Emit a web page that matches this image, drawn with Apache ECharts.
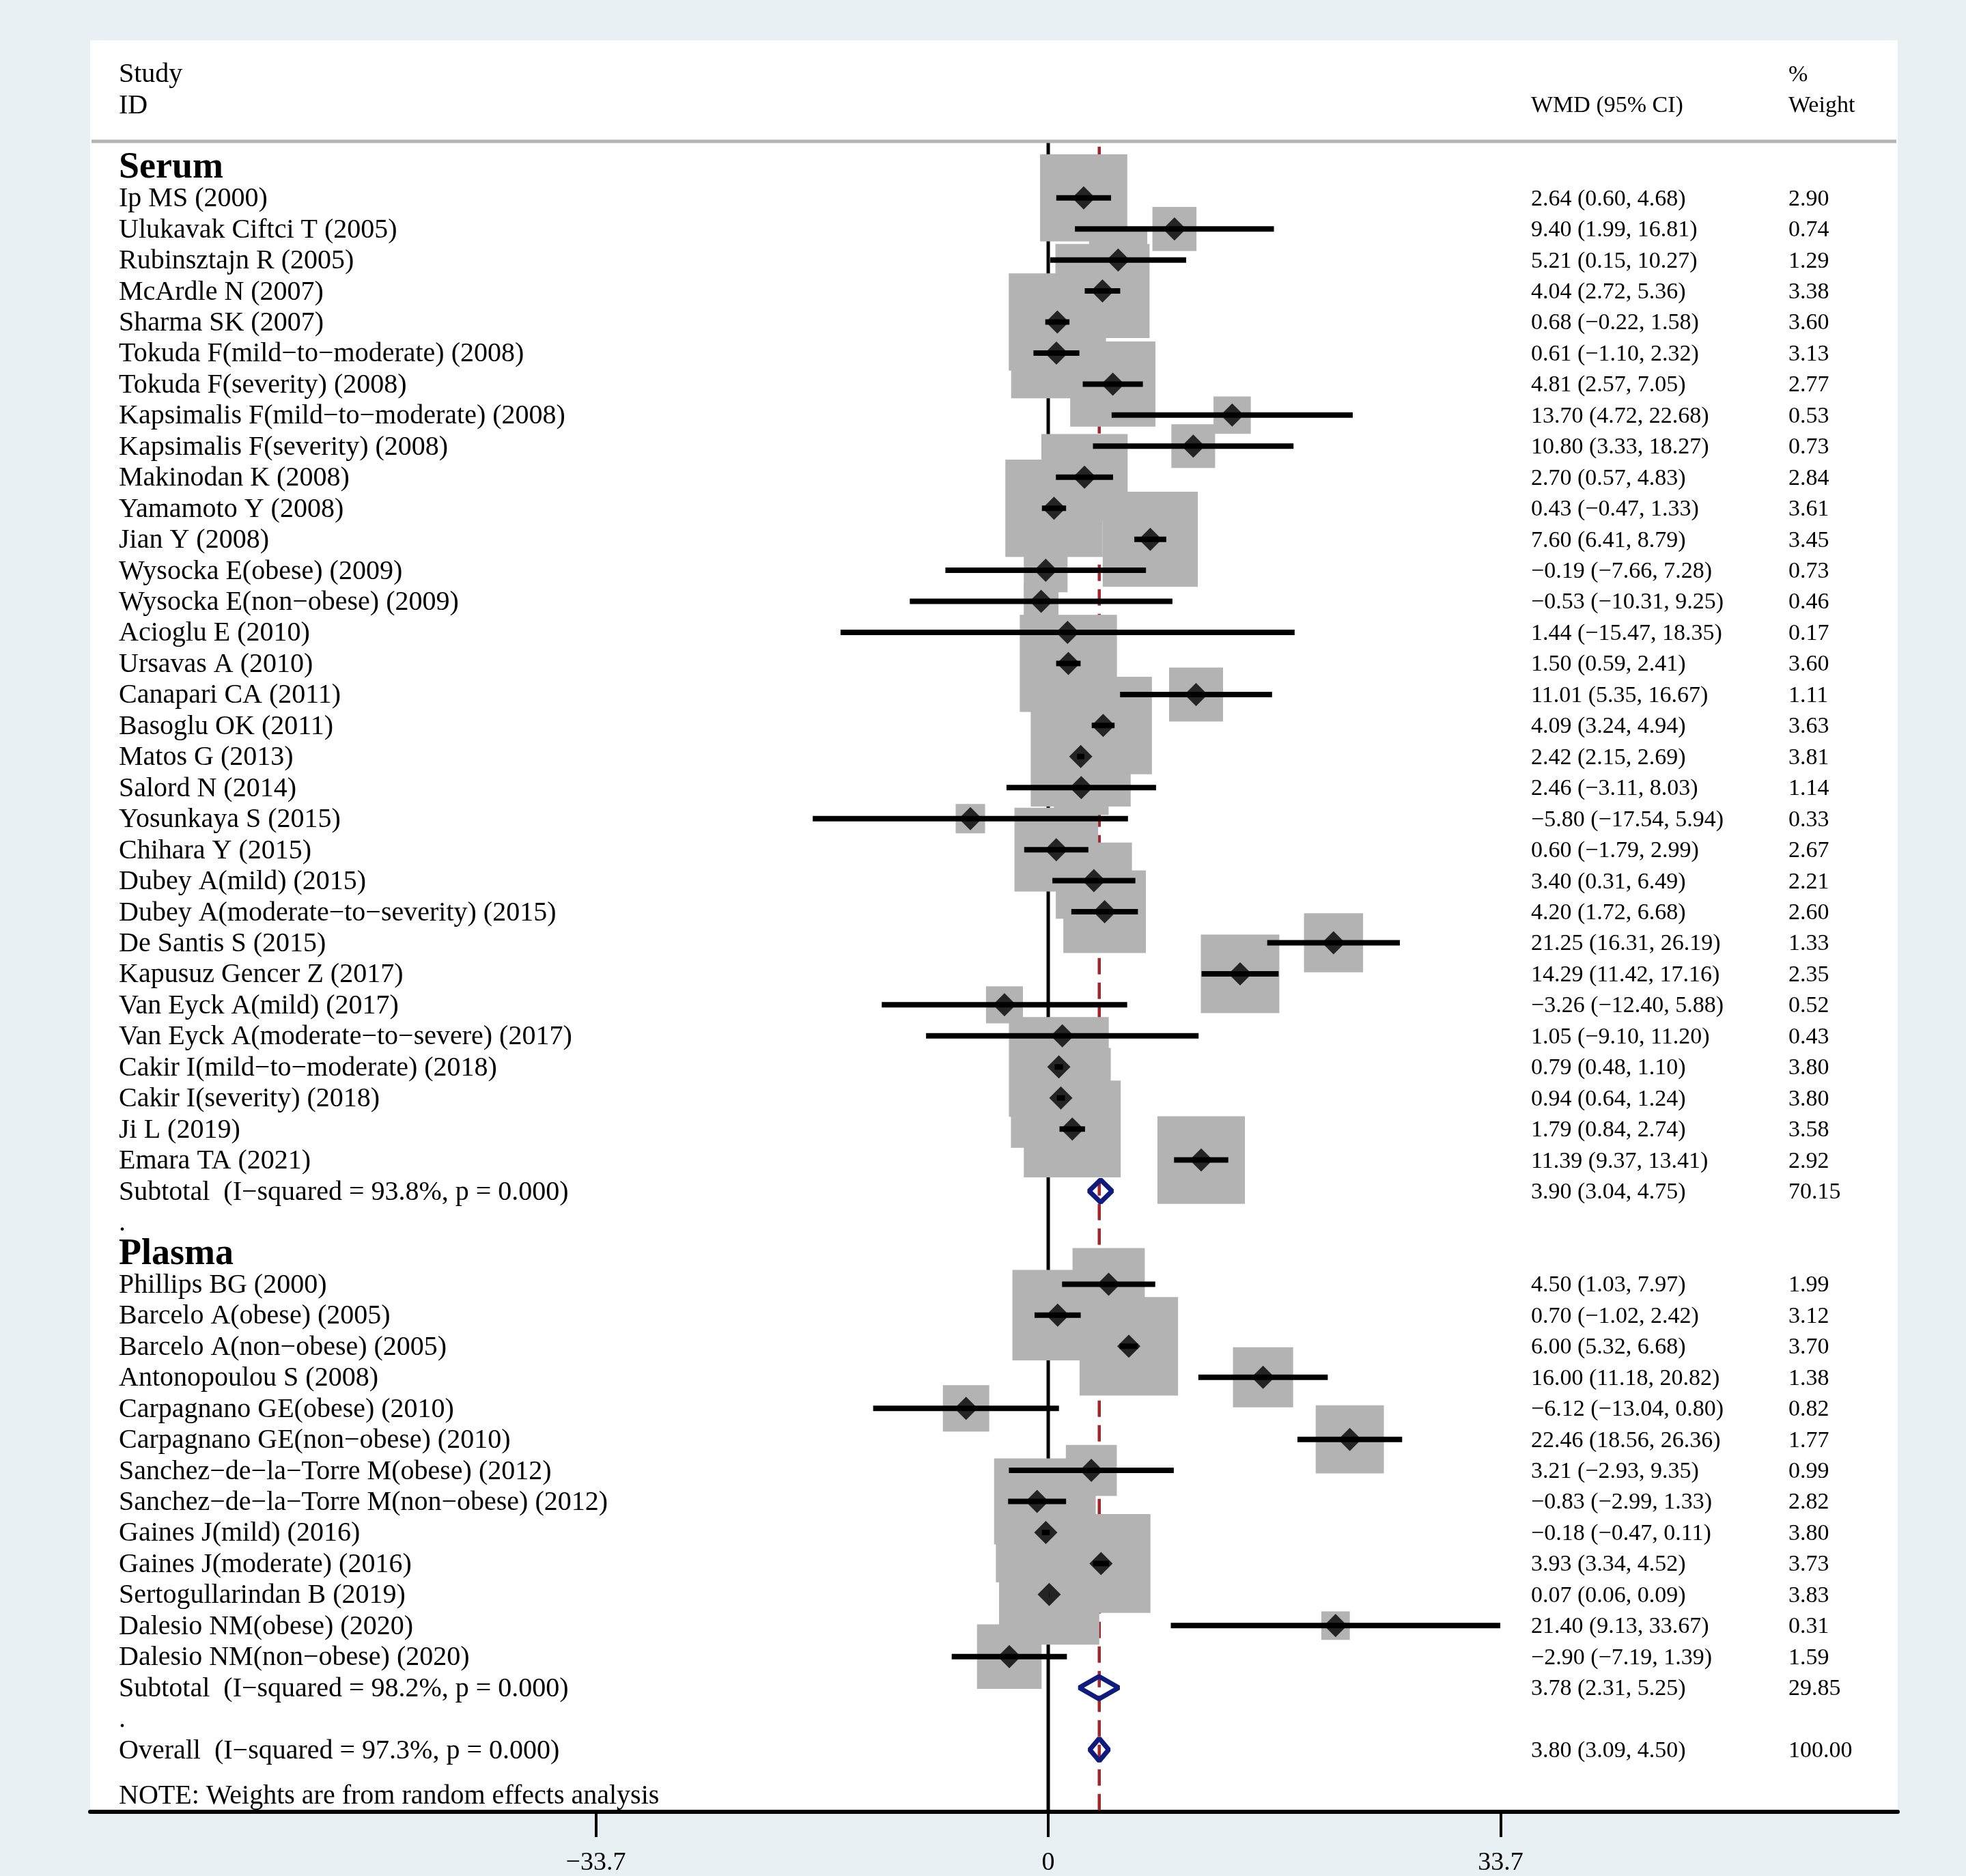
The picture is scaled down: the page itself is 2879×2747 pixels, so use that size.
<!DOCTYPE html>
<html>
<head>
<meta charset="utf-8">
<script src="https://cdn.jsdelivr.net/npm/echarts@6/dist/echarts.min.js"></script>
<style>
html,body{margin:0;padding:0;background:#e8f0f3;}
#chart{width:2879px;height:2747px;}
</style>
</head>
<body>
<div id="chart"></div>
<script>
// ---------------- DATA ----------------
const groupNames = ['Serum', 'Plasma'];

const serumStudies = [
  'Ip MS (2000)', 'Ulukavak Ciftci T (2005)', 'Rubinsztajn R (2005)', 'McArdle N (2007)',
  'Sharma SK (2007)', 'Tokuda F(mild−to−moderate) (2008)', 'Tokuda F(severity) (2008)',
  'Kapsimalis F(mild−to−moderate) (2008)', 'Kapsimalis F(severity) (2008)', 'Makinodan K (2008)',
  'Yamamoto Y (2008)', 'Jian Y (2008)', 'Wysocka E(obese) (2009)', 'Wysocka E(non−obese) (2009)',
  'Acioglu E (2010)', 'Ursavas A (2010)', 'Canapari CA (2011)', 'Basoglu OK (2011)',
  'Matos G (2013)', 'Salord N (2014)', 'Yosunkaya S (2015)', 'Chihara Y (2015)',
  'Dubey A(mild) (2015)', 'Dubey A(moderate−to−severity) (2015)', 'De Santis S (2015)',
  'Kapusuz Gencer Z (2017)', 'Van Eyck A(mild) (2017)', 'Van Eyck A(moderate−to−severe) (2017)',
  'Cakir I(mild−to−moderate) (2018)', 'Cakir I(severity) (2018)', 'Ji L (2019)', 'Emara TA (2021)'
];
const serumEst = [2.64, 9.40, 5.21, 4.04, 0.68, 0.61, 4.81, 13.70, 10.80, 2.70, 0.43, 7.60, -0.19, -0.53,
  1.44, 1.50, 11.01, 4.09, 2.42, 2.46, -5.80, 0.60, 3.40, 4.20, 21.25, 14.29, -3.26, 1.05, 0.79, 0.94, 1.79, 11.39];
const serumLo = [0.60, 1.99, 0.15, 2.72, -0.22, -1.10, 2.57, 4.72, 3.33, 0.57, -0.47, 6.41, -7.66, -10.31,
  -15.47, 0.59, 5.35, 3.24, 2.15, -3.11, -17.54, -1.79, 0.31, 1.72, 16.31, 11.42, -12.40, -9.10, 0.48, 0.64, 0.84, 9.37];
const serumHi = [4.68, 16.81, 10.27, 5.36, 1.58, 2.32, 7.05, 22.68, 18.27, 4.83, 1.33, 8.79, 7.28, 9.25,
  18.35, 2.41, 16.67, 4.94, 2.69, 8.03, 5.94, 2.99, 6.49, 6.68, 26.19, 17.16, 5.88, 11.20, 1.10, 1.24, 2.74, 13.41];
const serumWeight = [2.90, 0.74, 1.29, 3.38, 3.60, 3.13, 2.77, 0.53, 0.73, 2.84, 3.61, 3.45, 0.73, 0.46,
  0.17, 3.60, 1.11, 3.63, 3.81, 1.14, 0.33, 2.67, 2.21, 2.60, 1.33, 2.35, 0.52, 0.43, 3.80, 3.80, 3.58, 2.92];

const plasmaStudies = [
  'Phillips BG (2000)', 'Barcelo A(obese) (2005)', 'Barcelo A(non−obese) (2005)', 'Antonopoulou S (2008)',
  'Carpagnano GE(obese) (2010)', 'Carpagnano GE(non−obese) (2010)', 'Sanchez−de−la−Torre M(obese) (2012)',
  'Sanchez−de−la−Torre M(non−obese) (2012)', 'Gaines J(mild) (2016)', 'Gaines J(moderate) (2016)',
  'Sertogullarindan B (2019)', 'Dalesio NM(obese) (2020)', 'Dalesio NM(non−obese) (2020)'
];
const plasmaEst = [4.50, 0.70, 6.00, 16.00, -6.12, 22.46, 3.21, -0.83, -0.18, 3.93, 0.07, 21.40, -2.90];
const plasmaLo = [1.03, -1.02, 5.32, 11.18, -13.04, 18.56, -2.93, -2.99, -0.47, 3.34, 0.06, 9.13, -7.19];
const plasmaHi = [7.97, 2.42, 6.68, 20.82, 0.80, 26.36, 9.35, 1.33, 0.11, 4.52, 0.09, 33.67, 1.39];
const plasmaWeight = [1.99, 3.12, 3.70, 1.38, 0.82, 1.77, 0.99, 2.82, 3.80, 3.73, 3.83, 0.31, 1.59];

const subtotalLabels = ['Subtotal  (I−squared = 93.8%, p = 0.000)', 'Subtotal  (I−squared = 98.2%, p = 0.000)'];
const subtotalEst = [3.90, 3.78];
const subtotalLo = [3.04, 2.31];
const subtotalHi = [4.75, 5.25];
const subtotalWeight = [70.15, 29.85];

const overallLabel = 'Overall  (I−squared = 97.3%, p = 0.000)';
const overallEst = 3.80;
const overallLo = 3.09;
const overallHi = 4.50;
const overallWeight = 100.00;

const tickValues = [-33.7, 0, 33.7];
const headerStudy = ['Study', 'ID'];
const headerCI = 'WMD (95% CI)';
const headerWeight = ['%', 'Weight'];
const noteText = 'NOTE: Weights are from random effects analysis';

// ---------------- LAYOUT ----------------
const FONT = '"Liberation Serif", "Times New Roman", serif';
const COL_NAME = 42, COL_CI = 2110, COL_W = 2487; // px offsets from grid left
const TEXT_DY = 2;
const BOX_SCALE = 75;
const RULE_ROW = -0.82, RED_START_ROW = -0.65, AXIS_ROW = 53, NOTE_ROW = 52.45;

const fmt = v => (v < 0 ? '−' : '') + Math.abs(v).toFixed(2);
const ciText = (e, l, h) => fmt(e) + ' (' + fmt(l) + ', ' + fmt(h) + ')';

const groups = [
  {name: groupNames[0], studies: serumStudies, est: serumEst, lo: serumLo, hi: serumHi, w: serumWeight},
  {name: groupNames[1], studies: plasmaStudies, est: plasmaEst, lo: plasmaLo, hi: plasmaHi, w: plasmaWeight}
];

const SZ_NAME = 40, SZ_COL = 34, SZ_GROUP = 54;
const studyRows = [], pooledRows = [], textRows = [];
textRows.push({k: -3, text: headerStudy[0], col: 'name', size: SZ_NAME});
textRows.push({k: -2, text: headerStudy[1], col: 'name', size: SZ_NAME});
textRows.push({k: -2, text: headerCI, col: 'ci', size: SZ_COL});
textRows.push({k: -3, text: headerWeight[0], col: 'w', size: SZ_COL});
textRows.push({k: -2, text: headerWeight[1], col: 'w', size: SZ_COL});

let k = 0;
groups.forEach((g, gi) => {
  textRows.push({k, text: g.name, col: 'name', size: SZ_GROUP, bold: true});
  k++;
  g.studies.forEach((name, i) => {
    studyRows.push({k, est: g.est[i], lo: g.lo[i], hi: g.hi[i], w: g.w[i]});
    textRows.push({k, text: name, col: 'name', size: SZ_NAME});
    textRows.push({k, text: ciText(g.est[i], g.lo[i], g.hi[i]), col: 'ci', size: SZ_COL});
    textRows.push({k, text: g.w[i].toFixed(2), col: 'w', size: SZ_COL});
    k++;
  });
  pooledRows.push({k, est: subtotalEst[gi], lo: subtotalLo[gi], hi: subtotalHi[gi]});
  textRows.push({k, text: subtotalLabels[gi], col: 'name', size: SZ_NAME});
  textRows.push({k, text: ciText(subtotalEst[gi], subtotalLo[gi], subtotalHi[gi]), col: 'ci', size: SZ_COL});
  textRows.push({k, text: subtotalWeight[gi].toFixed(2), col: 'w', size: SZ_COL});
  k++;
  textRows.push({k, text: '.', col: 'name', size: SZ_NAME});
  k++;
});
pooledRows.push({k, est: overallEst, lo: overallLo, hi: overallHi});
textRows.push({k, text: overallLabel, col: 'name', size: SZ_NAME});
textRows.push({k, text: ciText(overallEst, overallLo, overallHi), col: 'ci', size: SZ_COL});
textRows.push({k, text: overallWeight.toFixed(2), col: 'w', size: SZ_COL});
textRows.push({k: NOTE_ROW, text: noteText, col: 'name', size: SZ_NAME});

const colOffset = {name: COL_NAME, ci: COL_CI, w: COL_W};

const chart = echarts.init(document.getElementById('chart'), null, {renderer: 'canvas'});

const option = {
  animation: false,
  backgroundColor: '#e8f0f3',
  grid: {left: 132, right: 100, top: 59, bottom: 91, show: true, backgroundColor: '#ffffff', borderWidth: 0},
  xAxis: {
    type: 'value', min: -71.36, max: 63.27,
    splitLine: {show: false},
    axisLine: {show: true, onZero: false, lineStyle: {color: '#000', width: 6}},
    axisTick: {show: true, customValues: tickValues, length: 37, lineStyle: {color: '#000', width: 4}},
    axisLabel: {
      customValues: tickValues, margin: 56, fontSize: 38, fontFamily: FONT, color: '#000',
      formatter: v => v === 0 ? '0' : (v < 0 ? '−' : '') + Math.abs(v).toFixed(1)
    }
  },
  yAxis: {
    type: 'value', inverse: true, min: -4.077, max: AXIS_ROW, show: false,
    splitLine: {show: false}
  },
  graphic: [{
    type: 'line', z: 10,
    shape: {x1: 134, y1: 207, x2: 2777, y2: 207},
    style: {stroke: '#b4b4b4', lineWidth: 5}
  }],
  series: [
    {
      name: 'refLines', type: 'custom', z: 1, silent: true,
      data: [[0, 0], [overallEst, 1]],
      encode: {x: 0, y: 1},
      renderItem: (params, api) => {
        const x = api.value(0);
        const isZero = params.dataIndex === 0;
        const p1 = api.coord([x, isZero ? RULE_ROW : RED_START_ROW]);
        const p2 = api.coord([x, AXIS_ROW]);
        return {
          type: 'line',
          shape: {x1: p1[0], y1: p1[1], x2: p2[0], y2: p2[1]},
          style: isZero ? {stroke: '#000', lineWidth: 5}
                        : {stroke: '#a0282c', lineWidth: 4.5, lineDash: [24, 12]}
        };
      }
    },
    {
      name: 'boxes', type: 'scatter', z: 2, silent: true,
      symbol: 'rect',
      symbolSize: val => BOX_SCALE * Math.sqrt(val[2]),
      itemStyle: {color: '#b3b3b3', opacity: 1},
      data: studyRows.map(r => [r.est, r.k, r.w])
    },
    {
      name: 'ci', type: 'custom', z: 3, silent: true,
      data: studyRows.map(r => [r.lo, r.hi, r.k]),
      encode: {x: [0, 1], y: 2},
      renderItem: (params, api) => {
        const p1 = api.coord([api.value(0), api.value(2)]);
        const p2 = api.coord([api.value(1), api.value(2)]);
        return {type: 'line', shape: {x1: p1[0], y1: p1[1], x2: p2[0], y2: p2[1]},
                style: {stroke: '#000', lineWidth: 8}};
      }
    },
    {
      name: 'points', type: 'scatter', z: 4, silent: true,
      symbol: 'diamond', symbolSize: 34,
      itemStyle: {color: '#000'},
      data: studyRows.map(r => [r.est, r.k])
    },
    {
      name: 'pooled', type: 'custom', z: 5, silent: true,
      data: pooledRows.map(r => [r.est, r.lo, r.hi, r.k]),
      encode: {x: [0, 1, 2], y: 3},
      renderItem: (params, api) => {
        const y = api.value(3);
        const c = api.coord([api.value(0), y]);
        const l = api.coord([api.value(1), y]);
        const h = api.coord([api.value(2), y]);
        const hh = 16.5;
        return {
          type: 'polygon',
          shape: {points: [[l[0], c[1]], [c[0], c[1] - hh], [h[0], c[1]], [c[0], c[1] + hh]]},
          style: {fill: 'none', stroke: '#0f1b7f', lineWidth: 7, lineJoin: 'bevel'}
        };
      }
    },
    {
      name: 'texts', type: 'custom', z: 6, silent: true,
      data: textRows.map(r => [0, r.k]),
      encode: {x: 0, y: 1},
      renderItem: (params, api) => {
        const r = textRows[params.dataIndex];
        const y = api.coord([0, r.k])[1] + TEXT_DY;
        return {
          type: 'text',
          x: params.coordSys.x + colOffset[r.col],
          y: y,
          style: {
            text: r.text, fill: '#000',
            fontSize: r.size, fontFamily: FONT, fontWeight: r.bold ? 'bold' : 'normal',
            align: 'left', verticalAlign: 'middle'
          }
        };
      }
    }
  ]
};
chart.setOption(option);
</script>
</body>
</html>
